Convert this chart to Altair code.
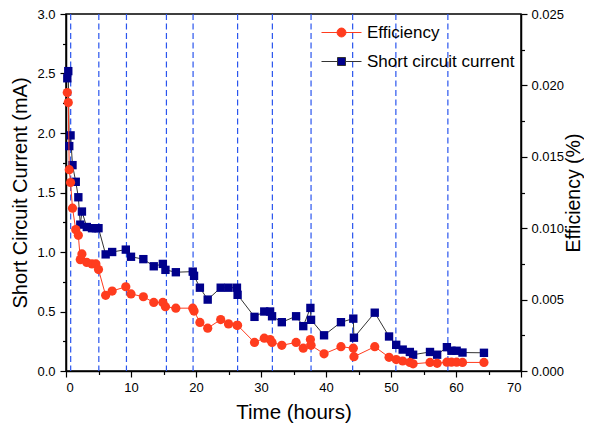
import altair as alt
import pandas as pd

# ---- data ----
time_h = [0.2, 0.35, 0.5, 0.7, 1.0, 1.5, 1.9, 2.2, 2.45, 3.2, 4.0, 4.6, 5.0,
          6.1, 7.1, 9.2, 10.0, 11.9, 13.5, 14.9, 15.3, 16.9, 19.5, 19.7, 20.6,
          21.8, 23.8, 25.0, 26.3, 26.4, 29.0, 30.5, 31.4, 31.7, 33.2, 35.4,
          36.5, 37.6, 37.7, 39.7, 42.3, 44.2, 44.3, 47.5, 49.7, 50.8, 51.8,
          52.9, 53.4, 56.0, 57.1, 58.6, 59.3, 60.1, 61.0, 64.3]
current_ma = [2.46, 2.52, 1.89, 1.98, 1.73, 1.59, 1.46, 1.23, 1.34, 1.21, 1.20,
              1.20, 1.20, 0.98, 1.00, 1.02, 0.96, 0.94, 0.88, 0.90, 0.85, 0.83,
              0.835, 0.80, 0.70, 0.60, 0.70, 0.70, 0.70, 0.64, 0.455, 0.50,
              0.50, 0.46, 0.41, 0.46, 0.377, 0.53, 0.43, 0.30, 0.41, 0.44,
              0.28, 0.49, 0.29, 0.22, 0.18, 0.16, 0.137, 0.16, 0.137, 0.20,
              0.17, 0.17, 0.155, 0.153]
efficiency_pct = [0.0195, 0.0188, 0.0141, 0.0132, 0.0114, 0.0099, 0.0095,
                  0.0078, 0.0082, 0.0076, 0.0075, 0.0075, 0.0071, 0.0053,
                  0.0056, 0.0059, 0.0054, 0.0052, 0.0048, 0.0048, 0.0045,
                  0.0044, 0.0044, 0.0042, 0.0034, 0.0030, 0.0036, 0.0033,
                  0.0032, 0.0032, 0.0020, 0.0023, 0.0022, 0.0020, 0.0018,
                  0.0020, 0.0016, 0.0022, 0.0018, 0.0012, 0.0017, 0.0016,
                  0.0010, 0.0017, 0.00096, 0.0008, 0.0007, 0.0006, 0.0005,
                  0.0006, 0.00054, 0.00062, 0.00062, 0.00062, 0.0006, 0.0006]
marker_times = [0.72, 5.05, 9.3, 15.45, 19.55, 26.4, 31.75, 37.7, 44.1, 50.75, 58.75]
series_names = ["Efficiency", "Short circuit current"]

x_ticks = [0, 5, 10, 15, 20, 25, 30, 35, 40, 45, 50, 55, 60, 65, 70]
left_ticks = [0, 0.25, 0.5, 0.75, 1.0, 1.25, 1.5, 1.75, 2.0, 2.25, 2.5, 2.75, 3.0]
right_ticks = [0, 0.0025, 0.005, 0.0075, 0.01, 0.0125, 0.015, 0.0175, 0.02,
               0.0225, 0.025]

RED = "#ff3c1e"
NAVY = "#00008b"
LINE_DARK = "#333333"
FONT = "Liberation Sans"

df = pd.DataFrame({"t": time_h, "I": current_ma, "E": efficiency_pct,
                   "idx": list(range(len(time_h)))})
markers = pd.DataFrame({"t": marker_times})
legend_df = pd.DataFrame({"series": series_names,
                          "t": [time_h[0], time_h[0]],
                          "v": [current_ma[0], current_ma[0]]})

x_axis = alt.Axis(
    values=x_ticks, title="Time (hours)", orient="bottom",
    tickSize={"condition": {"test": "datum.value % 10 === 0", "value": 6}, "value": 3.5},
    labelExpr="datum.value % 10 === 0 ? datum.label : ''",
    labelPadding=4, titlePadding=8)
X = alt.X("t:Q", scale=alt.Scale(domain=[0, 70], nice=False, zero=False), axis=x_axis)

left_axis = alt.Axis(
    values=left_ticks, title="Short Circuit Current (mA)", orient="left",
    tickSize={"condition": {"test": "abs(datum.value*2 - round(datum.value*2)) < 0.001", "value": 6}, "value": 3.5},
    labelExpr="abs(datum.value*2 - round(datum.value*2)) < 0.001 ? format(datum.value, '.1f') : ''",
    labelPadding=5, titlePadding=6, titleFontSize=20)

right_axis = alt.Axis(
    values=right_ticks, title="Efficiency (%)", orient="right",
    tickSize={"condition": {"test": "abs(datum.value*200 - round(datum.value*200)) < 0.001", "value": 6}, "value": 3.5},
    labelExpr="abs(datum.value*200 - round(datum.value*200)) < 0.001 ? format(datum.value, '.3f') : ''",
    labelPadding=4, titlePadding=1, titleAngle=270, titleBaseline="top",
    titleFontSize=19.5)

rules = alt.Chart(markers).mark_rule(
    color="#2a55ee", strokeDash=[6, 3.5], strokeWidth=1.2
).encode(x=X)

current = alt.Chart(df).mark_line(
    color=LINE_DARK, strokeWidth=1,
    point=alt.OverlayMarkDef(shape="square", filled=True, color=NAVY, size=70, opacity=1)
).encode(
    x=X,
    y=alt.Y("I:Q", scale=alt.Scale(domain=[0, 3], nice=False), axis=left_axis),
    order="idx:Q")

eff = alt.Chart(df).mark_line(
    color=RED, strokeWidth=1,
    point=alt.OverlayMarkDef(shape="circle", filled=True, color=RED, size=85, opacity=1)
).encode(
    x=X,
    y=alt.Y("E:Q", scale=alt.Scale(domain=[0, 0.025], nice=False), axis=right_axis),
    order="idx:Q")

path_eff = "M-2.5,0H2.5M0.56,0A0.56,0.56,0,1,1,-0.56,0A0.56,0.56,0,1,1,0.56,0Z"
path_cur = "M-2.5,0H-0.5M0.5,0H2.5M-0.5,-0.5H0.5V0.5H-0.5Z"
leg = alt.Legend(title=None, orient="none", legendX=267, legendY=10,
                 symbolSize=256, labelOffset=17, rowPadding=11,
                 labelFontSize=17, labelFont=FONT, labelColor="#000",
                 symbolOpacity=1, symbolStrokeWidth=1)

legend_layer = alt.Chart(legend_df).mark_point(
    filled=True, opacity=0, size=256, strokeWidth=1
).encode(
    x=X,
    y=alt.Y("v:Q", scale=alt.Scale(domain=[0, 3]), axis=None),
    fill=alt.Fill("series:N", scale=alt.Scale(domain=series_names, range=[RED, NAVY]), legend=leg),
    stroke=alt.Stroke("series:N", scale=alt.Scale(domain=series_names, range=[RED, LINE_DARK]), legend=leg),
    shape=alt.Shape("series:N", scale=alt.Scale(domain=series_names, range=[path_eff, path_cur]), legend=leg),
)

chart = alt.layer(rules, current, eff, legend_layer).resolve_scale(
    y="independent"
).properties(
    width=455, height=357,
    autosize=alt.AutoSizeParams(type="none"),
    padding={"left": 58, "top": 6, "right": 63, "bottom": 54},
).configure_view(
    stroke="black", strokeWidth=1.5
).configure_axis(
    labelFont=FONT, labelFontSize=13, labelColor="#000",
    titleFont=FONT, titleFontSize=20.5, titleFontWeight="normal", titleColor="#000",
    domainColor="#000", domainWidth=1.5, tickColor="#000", tickWidth=1.2,
    grid=False,
)

chart.save("out.html", embed_options={"renderer": "svg", "actions": False})
